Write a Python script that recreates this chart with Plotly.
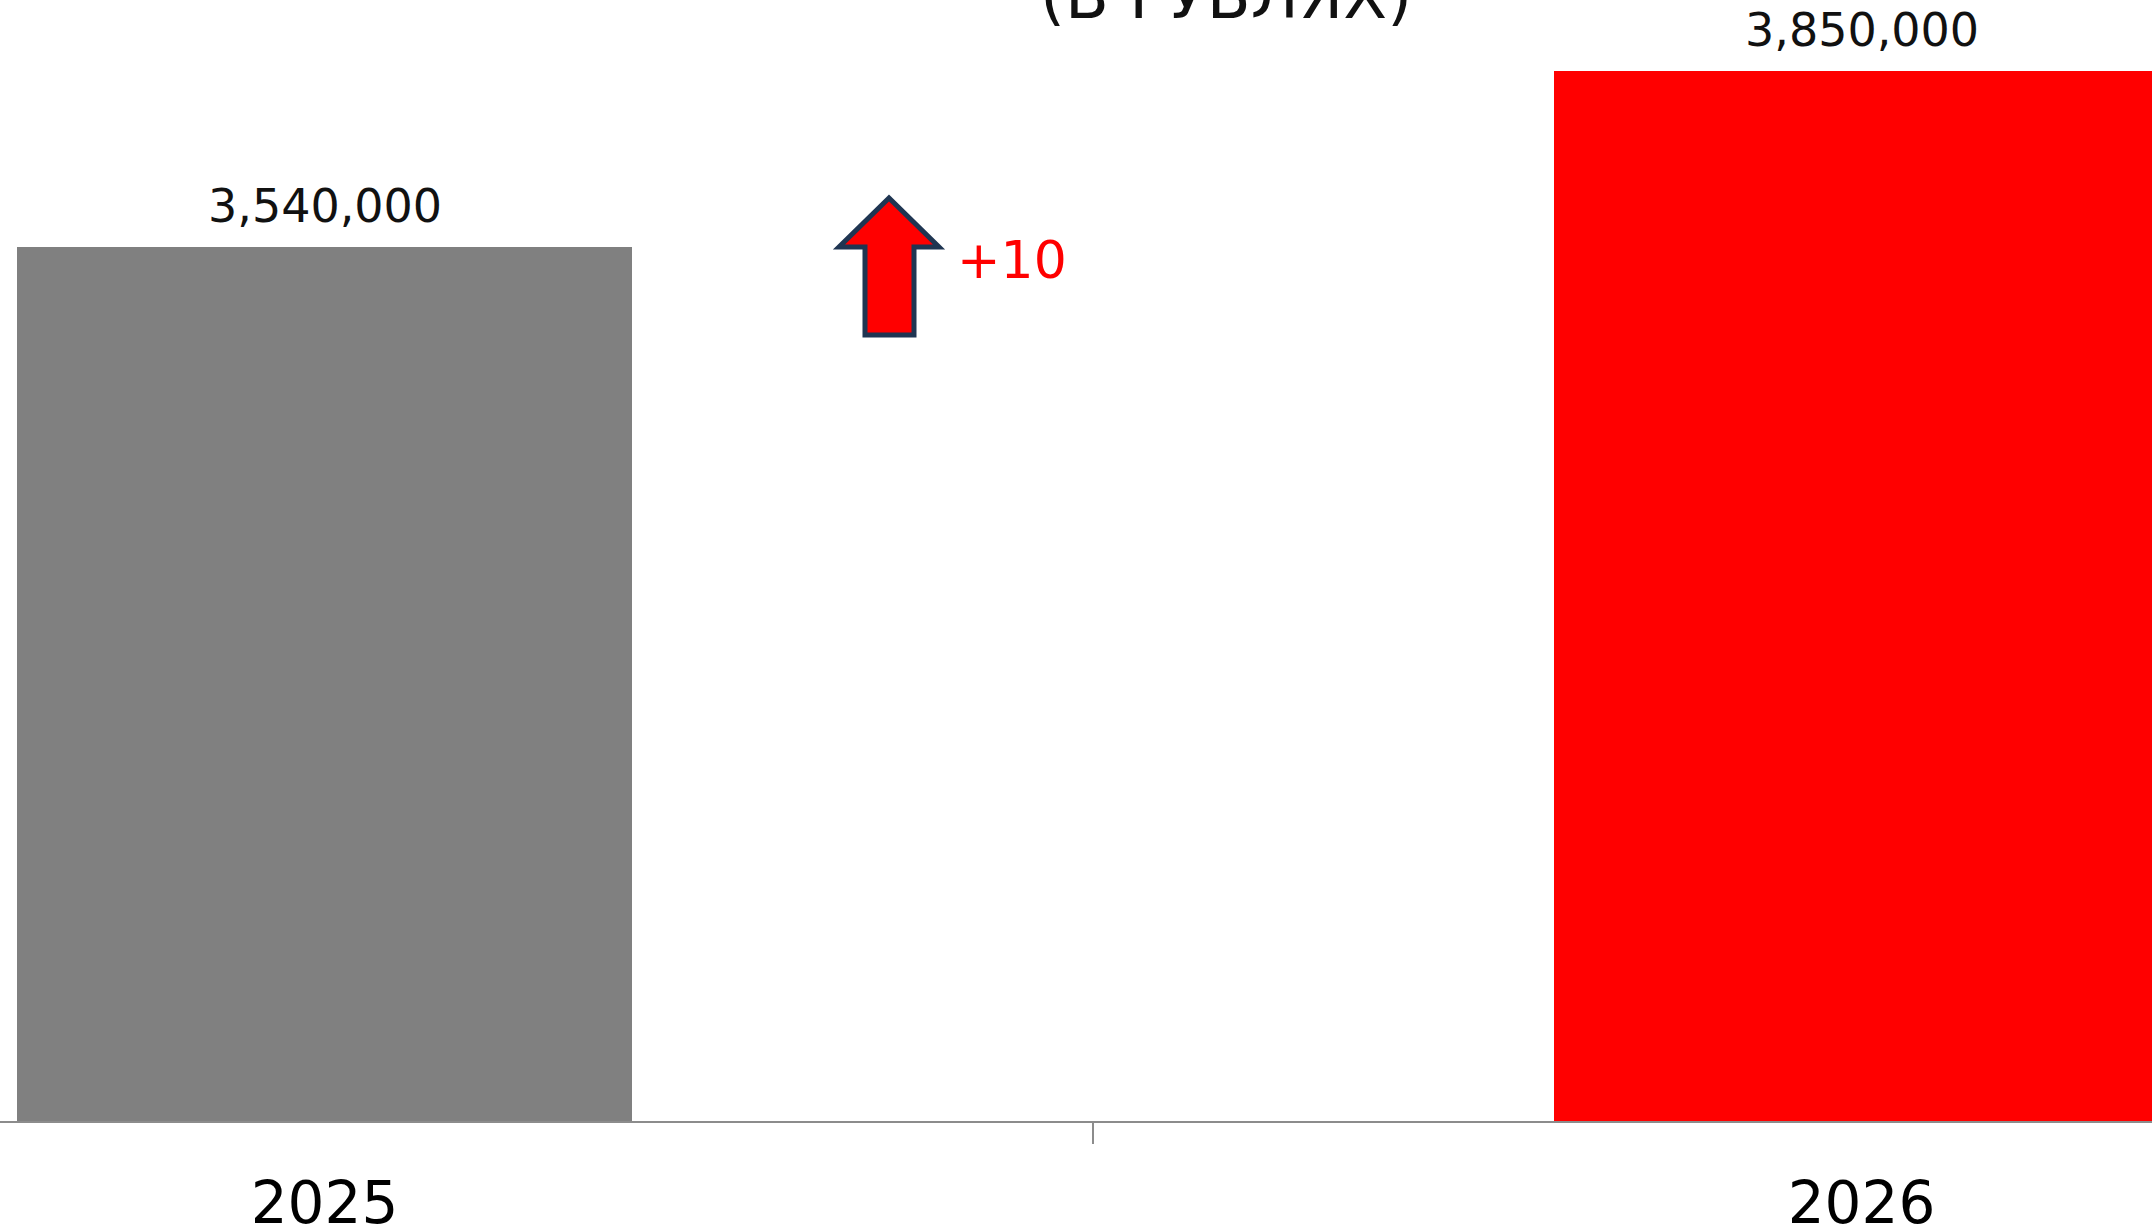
import plotly.graph_objects as go

# ---- data ----
years = ["2025", "2026"]
values = [3540000, 3850000]
bar_colors = ["#808080", "#FF0000"]
value_labels = ["3,540,000", "3,850,000"]
change_label = "+10"
title_text = "(В РУБЛЯХ)"

W, H = 2152, 1231
MB = 110  # bottom margin (axis line at y = H - MB)
PLOT_H = H - MB
FONT = "DejaVu Sans"

fig = go.Figure()
fig.add_trace(go.Bar(
    x=years, y=values, marker=dict(color=bar_colors, line=dict(width=0)),
    width=0.4, hoverinfo="skip", showlegend=False,
))

# value labels above bars (category index positions)
for i, (v, lab) in enumerate(zip(values, value_labels)):
    fig.add_annotation(x=i, y=v, xref="x", yref="y", text=lab, showarrow=False,
                       yanchor="bottom", yshift=12,
                       font=dict(family=FONT, size=46, color="#111111"))

# title (cut at top of the picture)
fig.add_annotation(x=1226 / W, y=1, xref="paper", yref="paper", text=title_text,
                   showarrow=False, xanchor="center", yanchor="middle", yshift=4,
                   font=dict(family=FONT, size=64, color="#111111"))

# decorative up-arrow (pixel layout converted to paper coords)
def px(xp, yp):
    return xp / W, 1 - yp / PLOT_H

arrow_px = [(889, 198), (839, 247), (865, 247), (865, 335), (914, 335), (914, 247), (939, 247)]
pts = [px(a, b) for a, b in arrow_px]
path = "M " + " L ".join(f"{a:.5f},{b:.5f}" for a, b in pts) + " Z"
fig.add_shape(type="path", path=path, xref="paper", yref="paper",
              fillcolor="#FF0000", line=dict(color="#1F3552", width=5))

cx, cy = px(1012, 260)
fig.add_annotation(x=cx, y=cy, xref="paper", yref="paper", text=change_label,
                   showarrow=False, xanchor="center", yanchor="middle",
                   font=dict(family=FONT, size=52, color="#FF0000"))

unit = 1537.0
r0 = -324.5 / unit
r1 = r0 + W / unit

fig.update_layout(
    width=W, height=H,
    margin=dict(l=0, r=0, t=0, b=MB, pad=0, autoexpand=False),
    paper_bgcolor="white", plot_bgcolor="white",
    xaxis=dict(type="category", range=[r0, r1], showgrid=False, zeroline=False,
               automargin=False,
               showline=True, linecolor="#8C8C8C", linewidth=2,
               ticks="outside", tickson="boundaries", ticklen=21, tickwidth=1.5,
               tickcolor="#8C8C8C", ticklabelstandoff=30,
               tickfont=dict(family=FONT, size=58, color="#000000")),
    yaxis=dict(visible=False, automargin=False,
               range=[2000000, 2000000 + PLOT_H * 310000 / 176]),
    bargap=0,
)

fig.write_html("out.html", config={"displayModeBar": False},
               post_script="document.body.style.margin='0';document.body.style.overflow='hidden';")
